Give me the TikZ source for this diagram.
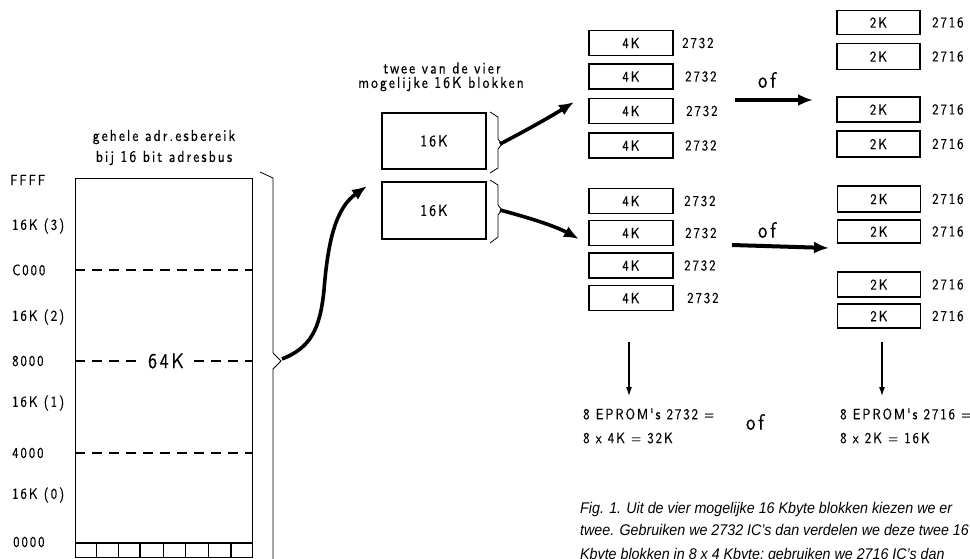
\documentclass[tikz,border=0pt]{standalone}
\usepackage{fontspec}
\setmainfont{Liberation Sans}
\newfontfamily\capfont[FakeStretch=0.92]{Liberation Sans}
\newfontfamily\din[FakeStretch=0.85, LetterSpace=13, FakeBold=0.5]{lmsans10-regular.otf}
\usetikzlibrary{arrows.meta}
\begin{document}
\begin{tikzpicture}[x=1pt,y=-1pt,
  ln/.style={line width=1.1pt},
  lbl/.style={font=\din\fontsize{15}{17}\selectfont, inner sep=0pt},
  hdl/.style={font=\din\fontsize{16}{18}\selectfont, inner sep=0pt},
  chip/.style={draw, line width=1.1pt, minimum width=84pt, minimum height=25pt, inner sep=0pt, font=\din\fontsize{15}{17}\selectfont},
  bigarr/.style={line width=3.6pt, -{Latex[length=15pt,width=12pt]}},
  downarr/.style={line width=1.1pt, -{Latex[length=9pt,width=6pt]}},
  dsh/.style={line width=1.1pt, dash pattern=on 10pt off 7pt},
  ofl/.style={font=\din\fontsize{22}{24}\selectfont, inner sep=0pt},
  captxt/.style={font=\capfont\fontsize{15.5}{18}\selectfont\itshape, inner sep=0pt, anchor=base west}]
\clip (0,0) rectangle (970,558);
\fill[white] (0,0) rectangle (970,558);

% ---------- full address range ----------
\node[hdl] (h1) at (164,137) {gehele adr.esbereik};
\node[hdl] (h2) at (164,158) {bij 16 bit adresbus};
\node[draw, ln, minimum width=177pt, minimum height=379pt, inner sep=0pt, anchor=north west] (mem) at (75,178) {};
\draw[dsh] (75,270) -- (252,270);
\draw[dsh] (75,453) -- (252,453);
\draw[dsh] (75,361) -- (252,361);
\node[lbl, fill=white, inner xsep=9pt, inner ysep=2pt, font=\din\fontsize{21}{23}\selectfont] (k64) at (166,361) {64K};
\draw[ln] (75,543) -- (252,543);
\foreach \x in {96.7,118.3,140,163.3,185.7,208.3,231} \draw[ln] (\x,543) -- (\x,557);

\node[lbl, anchor=west] (lF) at (10,180) {FFFF};
\node[lbl, anchor=west] (l3) at (12,226) {16K (3)};
\node[lbl, anchor=west] (lC) at (12,270) {C000};
\node[lbl, anchor=west] (l2) at (12,317) {16K (2)};
\node[lbl, anchor=west] (l8) at (12,361) {8000};
\node[lbl, anchor=west] (l1) at (12,403) {16K (1)};
\node[lbl, anchor=west] (l4) at (12,453) {4000};
\node[lbl, anchor=west] (l0) at (12,495) {16K (0)};
\node[lbl, anchor=west] (lZ) at (13,542) {0000};

% big brace
\draw[line width=0.8pt] (260,172) -- (273,178) -- (273,353) -- (281,361) -- (273,369) -- (273,570);
\coordinate (bt) at (282,359);

% ---------- two 16K blocks ----------
\node[hdl] (t1) at (442,68) {twee van de vier};
\node[hdl] (t2) at (441,84) {mogelijke 16K blokken};
\node[chip, minimum width=104pt, minimum height=56pt, font=\din\fontsize{16}{18}\selectfont] (b1) at (434,141) {16K};
\node[chip, minimum width=104pt, minimum height=57pt, font=\din\fontsize{16}{18}\selectfont] (b2) at (434,210.5) {16K};
\coordinate (btip) at (367,186);
\draw[bigarr] (bt) .. controls (310,348) and (320,330) .. (324,290) .. controls (328,240) and (336,208) .. (btip);

\draw[line width=0.8pt] (490,112) -- (498,117) -- (498,139) -- (502,144) -- (498,149) -- (498,168) -- (490,173);
\draw[line width=0.8pt] (490,180) -- (498,185) -- (498,205) -- (502,210) -- (498,215) -- (498,237) -- (490,243);
\coordinate (br1) at (500,144);
\coordinate (br2) at (500,210);

% ---------- 4K (2732) ----------
\node[chip] (a1) at (631,43) {4K};
\node[chip] (a2) at (631,76.5) {4K};
\node[chip] (a3) at (631,111) {4K};
\node[chip] (a4) at (631,145.5) {4K};
\node[chip] (c1) at (631,201) {4K};
\node[chip] (c2) at (631,233) {4K};
\node[chip] (c3) at (631,265.5) {4K};
\node[chip] (c4) at (631,298) {4K};
\foreach \n/\y/\x in {a1/43/682,a2/76.5/685,a3/111/686,a4/145.5/685,c1/201/684,c2/233/685,c3/265.5/684,c4/298/687}
  \node[lbl, anchor=west] (\n l) at (\x,\y) {2732};

\coordinate (a3t) at (574,102);
\coordinate (c2t) at (579,239);
\draw[bigarr] (br1) .. controls (525,131) and (550,117) .. (a3t);
\draw[bigarr] (br2) .. controls (530,218) and (555,226) .. (c2t);

% ---------- 2K (2716) ----------
\node[chip, minimum width=83pt, minimum height=24pt] (d1) at (878.5,22.5) {2K};
\node[chip, minimum width=83pt, minimum height=26pt] (d2) at (878.5,56.5) {2K};
\node[chip, minimum width=83pt, minimum height=25pt] (d3) at (878.5,109.5) {2K};
\node[chip, minimum width=83pt, minimum height=26pt] (d4) at (878.5,144) {2K};
\node[chip, minimum width=83pt, minimum height=26pt] (e1) at (879,199) {2K};
\node[chip, minimum width=83pt, minimum height=23pt] (e2) at (879,231.5) {2K};
\node[chip, minimum width=83pt, minimum height=25pt] (e3) at (879,284.5) {2K};
\node[chip, minimum width=83pt, minimum height=24pt] (e4) at (879,316) {2K};
\foreach \n/\y in {d1/22.5,d2/56.5,d3/109.5,d4/144,e1/199,e2/231.5,e3/284.5,e4/316}
  \node[lbl, anchor=west] (\n l) at (932,\y) {2716};

% ---------- "of" arrows ----------
\coordinate (o1a) at (735,100);
\coordinate (o1b) at (813,100);
\draw[bigarr, line width=4pt] (o1a) -- (o1b);
\node[ofl] (of1) at (767,80) {of};
\coordinate (o2a) at (732,245);
\coordinate (o2b) at (829,248);
\draw[bigarr, line width=4pt] (o2a) -- (o2b);
\node[ofl] (of2) at (767,230) {of};

% ---------- results ----------
\coordinate (r1a) at (629,342);
\coordinate (r1b) at (629,396);
\coordinate (r2a) at (882,342);
\coordinate (r2b) at (882,396);
\draw[downarr] (r1a) -- (r1b);
\draw[downarr] (r2a) -- (r2b);
\node[lbl, anchor=west] (s1) at (583,414) {8 EPROM's 2732 =};
\node[lbl, anchor=west] (s2) at (583,438) {8 x 4K = 32K};
\node[ofl] (of3) at (755,422) {of};
\node[lbl, anchor=west] (s3) at (840,414) {8 EPROM's 2716 =};
\node[lbl, anchor=west] (s4) at (840,438) {8 x 2K = 16K};

% ---------- caption ----------
\node[captxt] (cap1) at (580,513) {Fig. 1. Uit de vier mogelijke 16 Kbyte blokken kiezen we er};
\node[captxt] (cap2) at (580,535) {twee. Gebruiken we 2732 IC’s dan verdelen we deze twee 16};
\node[captxt] (cap3) at (580,559) {Kbyte blokken in 8 x 4 Kbyte; gebruiken we 2716 IC’s dan};
\end{tikzpicture}
\end{document}
